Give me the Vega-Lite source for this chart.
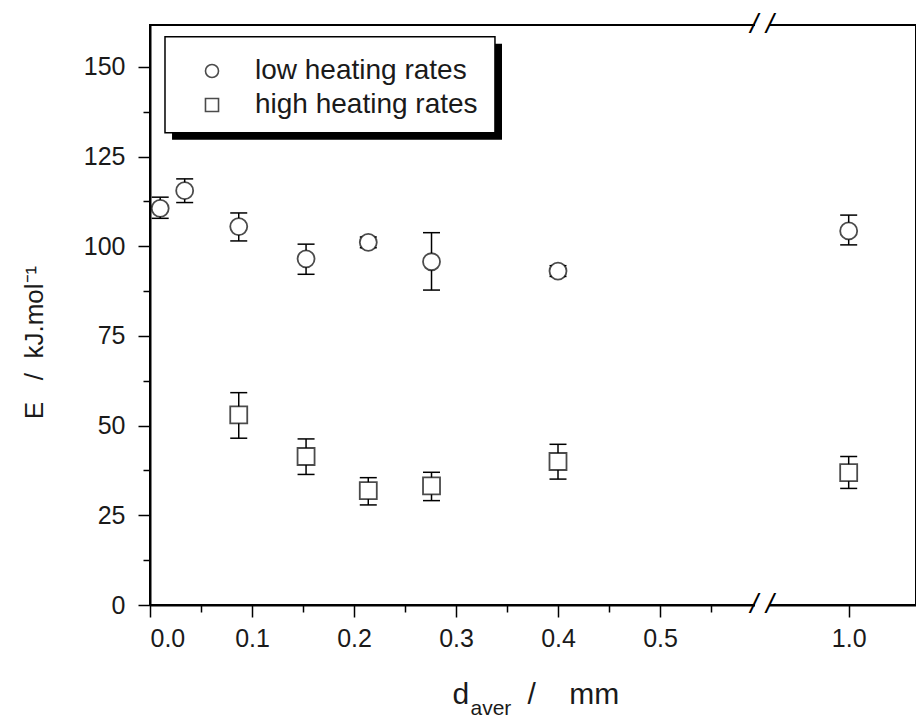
{
  "$schema": "https://vega.github.io/schema/vega-lite/v6.json",
  "width": 766,
  "height": 580,
  "autosize": {"type": "none"},
  "padding": {"left": 150, "top": 25, "right": 0, "bottom": 113},
  "background": "white",
  "config": {
    "view": {"stroke": "black", "strokeWidth": 2},
    "font": "Liberation Sans",
    "axis": {
      "domainColor": "black", "domainWidth": 2, "tickColor": "black", "tickWidth": 1.5,
      "labelColor": "#1a1a1a", "titleColor": "#1a1a1a", "labelFont": "Liberation Sans", "titleFont": "Liberation Sans",
      "labelFontSize": 25, "titleFontSize": 30, "titleFontWeight": "normal", "grid": false, "zindex": 0
    }
  },
  "datasets": {
    "pts": [
      {"d": 0.010, "E": 110.6, "lo": 107.8, "hi": 113.7, "series": "low heating rates"},
      {"d": 0.034, "E": 115.5, "lo": 112.2, "hi": 118.8, "series": "low heating rates"},
      {"d": 0.087, "E": 105.5, "lo": 101.5, "hi": 109.3, "series": "low heating rates"},
      {"d": 0.153, "E": 96.5, "lo": 92.2, "hi": 100.6, "series": "low heating rates"},
      {"d": 0.214, "E": 101.1, "lo": 99.6, "hi": 102.6, "series": "low heating rates"},
      {"d": 0.276, "E": 95.7, "lo": 87.8, "hi": 103.8, "series": "low heating rates"},
      {"d": 0.400, "E": 93.1, "lo": 91.6, "hi": 94.6, "series": "low heating rates"},
      {"d": 1.000, "E": 104.3, "lo": 100.4, "hi": 108.7, "series": "low heating rates"},
      {"d": 0.087, "E": 53.0, "lo": 46.5, "hi": 59.2, "series": "high heating rates"},
      {"d": 0.153, "E": 41.4, "lo": 36.4, "hi": 46.3, "series": "high heating rates"},
      {"d": 0.214, "E": 31.9, "lo": 27.9, "hi": 35.5, "series": "high heating rates"},
      {"d": 0.276, "E": 33.2, "lo": 29.1, "hi": 37.0, "series": "high heating rates"},
      {"d": 0.400, "E": 40.0, "lo": 35.1, "hi": 44.8, "series": "high heating rates"},
      {"d": 1.000, "E": 36.9, "lo": 32.5, "hi": 41.4, "series": "high heating rates"}
    ],
    "shadow": [{"x1": 0.0216, "x2": 0.3451, "y1": 129.7, "y2": 156.5}],
    "box": [{"x1": 0.0147, "x2": 0.3382, "y1": 131.67, "y2": 158.43}],
    "brk": [{"d": 0.6, "E": 0, "t": "/ /"}, {"d": 0.6, "E": 161.7, "t": "/ /"}]
  },
  "layer": [
    {
      "data": {"name": "shadow"},
      "mark": {"type": "rect", "color": "black"},
      "encoding": {
        "x": {"field": "x1", "type": "quantitative", "scale": {"domain": [0, 0.6, 0.915, 1.066], "range": [0, 612, 612, 766], "nice": false, "zero": false}, "axis": null},
        "x2": {"field": "x2"},
        "y": {"field": "y1", "type": "quantitative", "scale": {"domain": [0, 161.7], "nice": false}, "axis": null},
        "y2": {"field": "y2"}
      }
    },
    {
      "data": {"name": "box"},
      "mark": {"type": "rect", "fill": "white", "stroke": "black", "strokeWidth": 1.5},
      "encoding": {
        "x": {"field": "x1", "type": "quantitative", "scale": {"domain": [0, 0.6, 0.915, 1.066], "range": [0, 612, 612, 766], "nice": false, "zero": false}, "axis": null},
        "x2": {"field": "x2"},
        "y": {"field": "y1", "type": "quantitative", "scale": {"domain": [0, 161.7], "nice": false}, "axis": null},
        "y2": {"field": "y2"}
      }
    },
    {
      "data": {"name": "pts"},
      "mark": {"type": "rule", "color": "black", "strokeWidth": 1.5},
      "encoding": {
        "x": {"field": "d", "type": "quantitative", "scale": {"domain": [0, 0.6, 0.915, 1.066], "range": [0, 612, 612, 766], "nice": false, "zero": false},
              "axis": {"values": [0.05, 0.15, 0.25, 0.35, 0.45, 0.55], "labels": false, "tickSize": 7, "domain": false, "orient": "bottom",
                       "title": "aver", "titleFontSize": 21, "titleAlign": "left", "titleBaseline": "alphabetic", "titleX": 320, "titleY": 109}},
        "y": {"field": "lo", "type": "quantitative", "scale": {"domain": [0, 161.7], "nice": false},
              "axis": {"values": [12.5, 37.5, 62.5, 87.5, 112.5, 137.5], "labels": false, "tickSize": 7, "domain": false, "title": null, "orient": "left"}},
        "y2": {"field": "hi"}
      }
    },
    {
      "data": {"name": "pts"},
      "mark": {"type": "point", "shape": "M-1,0L1,0", "size": 289, "stroke": "black", "strokeWidth": 1.5, "filled": false, "opacity": 1},
      "encoding": {
        "x": {"field": "d", "type": "quantitative", "scale": {"domain": [0, 0.6, 0.915, 1.066], "range": [0, 612, 612, 766], "nice": false, "zero": false}, "axis": null},
        "y": {"field": "lo", "type": "quantitative", "scale": {"domain": [0, 161.7], "nice": false}, "axis": null}
      }
    },
    {
      "data": {"name": "pts"},
      "mark": {"type": "point", "shape": "M-1,0L1,0", "size": 289, "stroke": "black", "strokeWidth": 1.5, "filled": false, "opacity": 1},
      "encoding": {
        "x": {"field": "d", "type": "quantitative", "scale": {"domain": [0, 0.6, 0.915, 1.066], "range": [0, 612, 612, 766], "nice": false, "zero": false}, "axis": null},
        "y": {"field": "hi", "type": "quantitative", "scale": {"domain": [0, 161.7], "nice": false}, "axis": null}
      }
    },
    {
      "data": {"name": "pts"},
      "transform": [{"filter": "datum.series === 'low heating rates'"}],
      "mark": {"type": "point", "shape": "circle", "filled": true, "color": "white", "opacity": 1, "size": 289},
      "encoding": {
        "x": {"field": "d", "type": "quantitative", "scale": {"domain": [0, 0.6, 0.915, 1.066], "range": [0, 612, 612, 766], "nice": false, "zero": false}, "axis": null},
        "y": {"field": "E", "type": "quantitative", "scale": {"domain": [0, 161.7], "nice": false}, "axis": null}
      }
    },
    {
      "data": {"name": "pts"},
      "transform": [{"filter": "datum.series === 'high heating rates'"}],
      "mark": {"type": "point", "shape": "square", "filled": true, "color": "white", "opacity": 1, "size": 289},
      "encoding": {
        "x": {"field": "d", "type": "quantitative", "scale": {"domain": [0, 0.6, 0.915, 1.066], "range": [0, 612, 612, 766], "nice": false, "zero": false}, "axis": null},
        "y": {"field": "E", "type": "quantitative", "scale": {"domain": [0, 161.7], "nice": false}, "axis": null}
      }
    },
    {
      "data": {"name": "pts"},
      "mark": {"type": "point", "filled": false, "color": "black", "strokeWidth": 1.8, "size": 289},
      "encoding": {
        "x": {"field": "d", "type": "quantitative", "scale": {"domain": [0, 0.6, 0.915, 1.066], "range": [0, 612, 612, 766], "nice": false, "zero": false},
              "axis": {"values": [0, 0.1, 0.2, 0.3, 0.4, 0.5, 1.0], "format": ".1f", "tickSize": 12, "labelPadding": 9, "orient": "bottom",
                       "title": "d\u00a0\u00a0\u00a0\u00a0\u00a0\u00a0\u00a0/\u00a0\u00a0\u00a0\u00a0mm", "titleAlign": "left", "titleBaseline": "alphabetic", "titleX": 302, "titleY": 98}},
        "y": {"field": "E", "type": "quantitative", "scale": {"domain": [0, 161.7], "nice": false},
              "axis": {"values": [0, 25, 50, 75, 100, 125, 150], "tickSize": 12, "labelPadding": 13, "orient": "left",
                       "title": "E\u00a0\u00a0\u00a0/\u00a0\u00a0kJ.mol⁻¹", "titleFontSize": 26, "titleBaseline": "alphabetic", "titleX": -108, "titleY": 317}},
        "shape": {
          "field": "series", "type": "nominal",
          "scale": {"domain": ["low heating rates", "high heating rates"], "range": ["circle", "square"]},
          "legend": {
            "title": null, "orient": "none", "legendX": 48, "legendY": 32, "padding": 0,
            "labelFontSize": 28, "labelFont": "Liberation Sans", "labelColor": "#1a1a1a", "labelLimit": 500,
            "symbolSize": 170, "symbolStrokeWidth": 1.6, "labelOffset": 29, "rowPadding": 6
          }
        }
      }
    },
    {
      "data": {"name": "brk"},
      "mark": {"type": "point", "shape": "M-1,-0.35L1,-0.35L1,0.35L-1,0.35Z", "size": 196, "fill": "white", "strokeWidth": 0, "opacity": 1, "filled": true},
      "encoding": {
        "x": {"field": "d", "type": "quantitative", "scale": {"domain": [0, 0.6, 0.915, 1.066], "range": [0, 612, 612, 766], "nice": false, "zero": false}, "axis": null},
        "y": {"field": "E", "type": "quantitative", "scale": {"domain": [0, 161.7], "nice": false}, "axis": null}
      }
    },
    {
      "data": {"name": "brk"},
      "mark": {"type": "text", "fontSize": 28, "font": "Liberation Sans", "fontStyle": "italic", "color": "black", "baseline": "middle", "align": "center"},
      "encoding": {
        "x": {"field": "d", "type": "quantitative", "scale": {"domain": [0, 0.6, 0.915, 1.066], "range": [0, 612, 612, 766], "nice": false, "zero": false}, "axis": null},
        "y": {"field": "E", "type": "quantitative", "scale": {"domain": [0, 161.7], "nice": false}, "axis": null},
        "text": {"field": "t"}
      }
    }
  ],
  "resolve": {"axis": {"x": "independent", "y": "independent"}}
}
